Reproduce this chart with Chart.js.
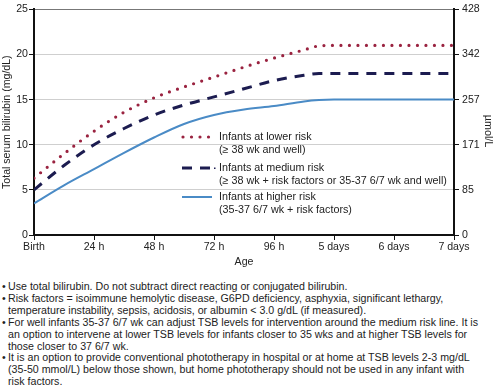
<!DOCTYPE html>
<html>
<head>
<meta charset="utf-8">
<script src="https://cdn.jsdelivr.net/npm/chart.js@4.4.1/dist/chart.umd.min.js"></script>
<style>
  html, body { margin:0; padding:0; background:#fff; }
  body { width:496px; height:392px; overflow:hidden; font-family: Arial, "Liberation Sans", sans-serif; color:#222; }
  #wrap { position:relative; width:496px; height:272px; }
  #notes { position:absolute; top:281px; left:0; width:496px; font-size:10.65px; line-height:11.9px; }
  .n { position:relative; padding-left:8px; white-space:nowrap; }
  .n:before { content:'\2022'; position:absolute; left:2px; }
</style>
</head>
<body>
<div id="wrap"><canvas id="c" width="496" height="272"></canvas></div>
<div id="notes">
  <div class="n">Use total bilirubin. Do not subtract direct reacting or conjugated bilirubin.</div>
  <div class="n">Risk factors = isoimmune hemolytic disease, G6PD deficiency, asphyxia, significant lethargy,<br>temperature instability, sepsis, acidosis, or albumin &lt; 3.0 g/dL (if measured).</div>
  <div class="n">For well infants 35-37 6/7 wk can adjust TSB levels for intervention around the medium risk line. It is<br>an option to intervene at lower TSB levels for infants closer to 35 wks and at higher TSB levels for<br>those closer to 37 6/7 wk.</div>
  <div class="n">It is an option to provide conventional phototherapy in hospital or at home at TSB levels 2-3 mg/dL<br>(35-50 mmol/L) below those shown, but home phototherapy should not be used in any infant with<br>risk factors.</div>
</div>
<script>
// ---- datos ----
var hours      = [0, 12, 24, 36, 48, 60, 72, 84, 96, 108, 114, 120, 144, 168];
var lowerRisk  = [6.3, 9.0, 11.5, 13.6, 15.2, 16.4, 17.5, 18.6, 19.6, 20.5, 20.95, 21.0, 21.0, 21.0];
var mediumRisk = [5.0, 7.7, 10.0, 11.8, 13.3, 14.4, 15.3, 16.2, 17.1, 17.7, 17.9, 17.9, 17.9, 17.9];
var higherRisk = [3.5, 5.5, 7.3, 9.1, 10.8, 12.3, 13.3, 13.9, 14.3, 14.8, 14.95, 15.0, 15.0, 15.0];

var tickHours  = [0, 24, 48, 72, 96, 120, 144, 168];
var tickLabels = ['Birth', '24 h', '48 h', '72 h', '96 h', '5 days', '6 days', '7 days'];
var mgTicks    = [0, 5, 10, 15, 20, 25];
var umolLabels = ['0', '85', '171', '257', '342', '428'];

var seriesNames = ['Infants at lower risk', 'Infants at medium risk', 'Infants at higher risk'];
var seriesNotes = ['(\u2265 38 wk and well)', '(\u2265 38 wk + risk factors or 35-37 6/7 wk and well)', '(35-37 6/7 wk + risk factors)'];

var FONT = 'Arial, "Liberation Sans", sans-serif';
var TXT  = '#222';

function pts(arr) { return hours.map(function(h, i) { return { x: h, y: arr[i] }; }); }

// leyenda interna + título derecho
var extras = {
    id: 'extras',
    afterDatasetsDraw: function(chart) {
        var ctx = chart.ctx;
        var rows = [137, 168, 197];
        ctx.save();
        chart.data.datasets.forEach(function(ds, i) {
            var y = rows[i];
            ctx.beginPath();
            ctx.strokeStyle = ds.borderColor;
            ctx.lineWidth = ds.borderWidth;
            ctx.lineCap = ds.borderCapStyle || 'butt';
            ctx.setLineDash(ds.borderDash || []);
            ctx.moveTo(i === 0 ? 183 : 182, y);
            ctx.lineTo(i === 2 ? 212 : 210, y);
            ctx.stroke();
            ctx.setLineDash([]);
            if (i === 1) { ctx.fillStyle = ds.borderColor; ctx.fillRect(214, y - 0.5, 1.5, 1.5); }
            ctx.fillStyle = TXT;
            ctx.font = '10.75px ' + FONT;
            ctx.textBaseline = 'middle';
            ctx.textAlign = 'left';
            ctx.fillText(seriesNames[i], 219, y);
            ctx.fillText(seriesNotes[i], 219, y + 13);
        });
        // µmol/L
        ctx.translate(488, 131);
        ctx.rotate(Math.PI / 2);
        ctx.textAlign = 'center';
        ctx.fillText('\u00b5mol/L', 0, 0);
        ctx.restore();
    }
};

new Chart(document.getElementById('c'), {
    type: 'line',
    data: {
        datasets: [{
            label: seriesNames[0],
            data: pts(lowerRisk),
            borderColor: '#9a2340',
            borderWidth: 3.2,
            borderDash: [0, 8.5],
            borderCapStyle: 'round',
            pointRadius: 0,
            cubicInterpolationMode: 'monotone'
        }, {
            label: seriesNames[1],
            data: pts(mediumRisk),
            borderColor: '#1c1c50',
            borderWidth: 3,
            borderDash: [10, 8],
            borderCapStyle: 'butt',
            pointRadius: 0,
            cubicInterpolationMode: 'monotone'
        }, {
            label: seriesNames[2],
            data: pts(higherRisk),
            borderColor: '#4a8bc6',
            borderWidth: 2,
            pointRadius: 0,
            cubicInterpolationMode: 'monotone'
        }]
    },
    options: {
        responsive: false,
        animation: false,
        layout: { padding: 0 },
        plugins: { legend: { display: false }, tooltip: { enabled: false } },
        scales: {
            x: {
                type: 'linear', min: 0, max: 168,
                afterBuildTicks: function(s) { s.ticks = tickHours.map(function(v) { return { value: v }; }); },
                afterFit: function(s) { s.height = 37; },
                border: { color: '#111', width: 2 },
                grid: { drawOnChartArea: false, tickLength: 5, tickColor: '#111', tickWidth: 1 },
                ticks: {
                    color: TXT, padding: 1, maxRotation: 0, autoSkip: false,
                    font: { family: FONT, size: 10.6 },
                    callback: function(v) { return tickLabels[tickHours.indexOf(v)]; }
                },
                title: { display: true, text: 'Age', color: TXT, font: { family: FONT, size: 10.6 }, padding: { top: 2, bottom: 4 } }
            },
            y: {
                position: 'left', min: 0, max: 25,
                afterBuildTicks: function(s) { s.ticks = mgTicks.map(function(v) { return { value: v }; }); },
                afterFit: function(s) { s.width = 34; },
                border: { color: '#111', width: 2 },
                grid: {
                    tickLength: 5, tickColor: '#111', lineWidth: 1,
                    color: function(c) { return c.tick && c.tick.value === 25 ? '#777' : '#cfcfcf'; }
                },
                ticks: { color: TXT, padding: 1, font: { family: FONT, size: 10.6 } },
                title: { display: true, text: 'Total serum bilirubin (mg/dL)', color: TXT, font: { family: FONT, size: 10.6 }, padding: { top: 1, bottom: 0 } }
            },
            y2: {
                position: 'right', min: 0, max: 25,
                afterBuildTicks: function(s) { s.ticks = mgTicks.map(function(v) { return { value: v }; }); },
                afterFit: function(s) { s.width = 42; },
                border: { color: '#111', width: 2 },
                grid: { drawOnChartArea: false, tickLength: 5, tickColor: '#111' },
                ticks: {
                    color: TXT, padding: 3, font: { family: FONT, size: 10.6 },
                    callback: function(v) { return umolLabels[mgTicks.indexOf(v)]; }
                }
            }
        }
    },
    plugins: [extras]
});
</script>
</body>
</html>
